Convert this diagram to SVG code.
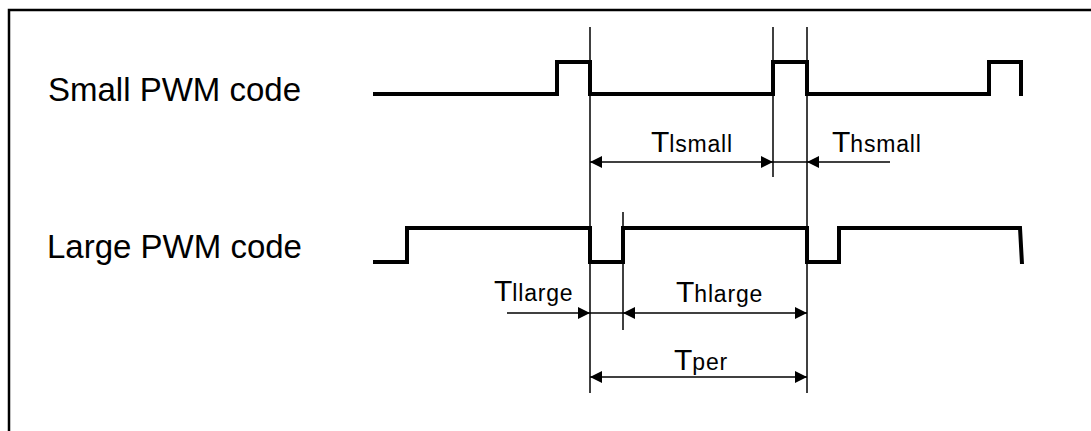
<svg xmlns="http://www.w3.org/2000/svg" width="1091" height="431" viewBox="0 0 1091 431">
<style>
.frame{fill:none;stroke:#000;stroke-width:2.5}
.wave{fill:none;stroke:#000;stroke-width:4;stroke-linejoin:miter;stroke-linecap:butt}
.guide{fill:none;stroke:#000;stroke-width:1.5}
.dim{fill:none;stroke:#000;stroke-width:1.5}
.lbl{font-family:"Liberation Sans",Arial,sans-serif;font-size:33px;fill:#000}
.t{font-family:"Liberation Sans",Arial,sans-serif;font-size:30px;fill:#000}
.sub{font-size:23px;letter-spacing:0.8px}
</style>
<defs>
<marker id="ah" viewBox="0 0 12 12" refX="12" refY="6" markerWidth="12" markerHeight="12" markerUnits="userSpaceOnUse" orient="auto-start-reverse">
<path d="M0,0 L12,6 L0,12 Z" fill="#000"/>
</marker>
</defs>
<rect width="1091" height="431" fill="#fff"/>
<path class="frame" d="M9,431 V10 H1091"/>

<g id="small-pwm">
<text class="lbl" x="48" y="101">Small PWM code</text>
<path class="wave" d="M373,94 H557 V62 H590 V94 H773 V62 H807 V94 H989 V62 H1021 V96"/>
</g>

<g id="large-pwm">
<text class="lbl" x="47" y="258">Large PWM code</text>
<path class="wave" d="M373,262 H407 V228 H590 V262 H623 V228 H807 V262 H839 V228 H1020 L1022,264"/>
</g>

<g id="guides">
<line class="guide" x1="590" y1="27" x2="590" y2="393"/>
<line class="guide" x1="773" y1="27" x2="773" y2="177"/>
<line class="guide" x1="807" y1="27" x2="807" y2="393"/>
<line class="guide" x1="623" y1="212" x2="623" y2="330"/>
</g>

<g id="connectors">
<line class="dim" x1="590" y1="162" x2="773" y2="162" marker-start="url(#ah)" marker-end="url(#ah)"/>
<line class="dim" x1="890" y1="162" x2="807" y2="162" marker-end="url(#ah)"/>
<line class="dim" x1="773" y1="162" x2="807" y2="162"/>
<line class="dim" x1="507" y1="313" x2="590" y2="313" marker-end="url(#ah)"/>
<line class="dim" x1="590" y1="313" x2="623" y2="313"/>
<line class="dim" x1="623" y1="313" x2="807" y2="313" marker-start="url(#ah)" marker-end="url(#ah)"/>
<line class="dim" x1="590" y1="377" x2="807" y2="377" marker-start="url(#ah)" marker-end="url(#ah)"/>
</g>

<g id="labels">
<text id="tlsmall" class="t" x="651" y="152">T<tspan class="sub">lsmall</tspan></text>
<text id="thsmall" class="t" x="832" y="152">T<tspan class="sub">hsmall</tspan></text>
<text id="tllarge" class="t" x="494" y="301">T<tspan class="sub">llarge</tspan></text>
<text id="thlarge" class="t" x="676" y="302">T<tspan class="sub">hlarge</tspan></text>
<text id="tper" class="t" x="674" y="370">T<tspan class="sub">per</tspan></text>
</g>
</svg>
